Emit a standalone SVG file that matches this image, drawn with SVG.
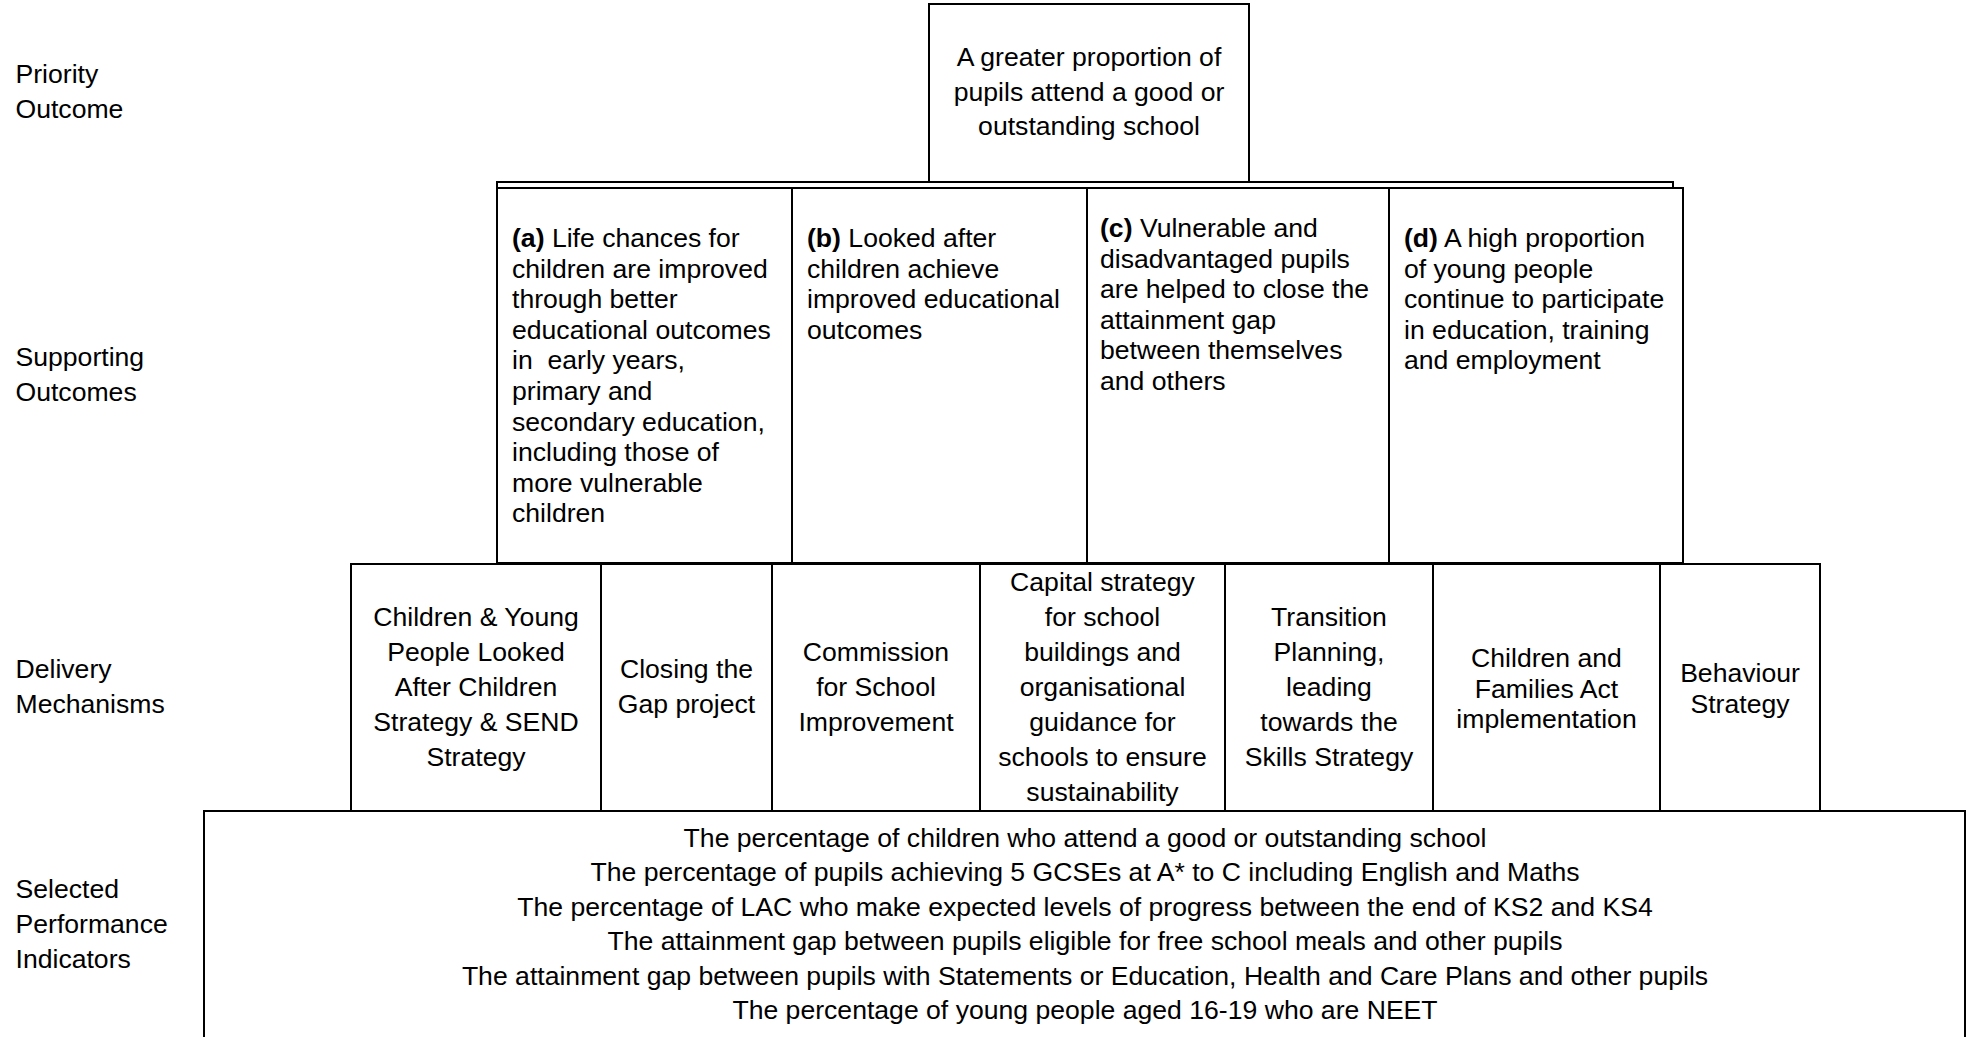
<svg xmlns="http://www.w3.org/2000/svg" width="1968" height="1037" viewBox="0 0 1968 1037">
<style>
  text { font-family: "Liberation Sans", Arial, sans-serif; font-size: 26.6px; fill: #000; }
  .c { text-anchor: middle; }
  .b { font-weight: bold; }
  .box { fill: none; stroke: #000; stroke-width: 2; }
  .ln { stroke: #000; stroke-width: 2; fill: none; }
</style>
<rect x="0" y="0" width="1968" height="1037" fill="#fff"/>

<g id="labels">
  <text x="15.5" y="83">Priority</text>
  <text x="15.5" y="118">Outcome</text>
  <text x="15.5" y="366">Supporting</text>
  <text x="15.5" y="401">Outcomes</text>
  <text x="15.5" y="678">Delivery</text>
  <text x="15.5" y="713">Mechanisms</text>
  <text x="15.5" y="898">Selected</text>
  <text x="15.5" y="933">Performance</text>
  <text x="15.5" y="968">Indicators</text>
</g>

<g id="priority">
  <rect class="box" x="929" y="4" width="320" height="178"/>
  <text class="c" x="1089" y="66">A greater proportion of</text>
  <text class="c" x="1089" y="101">pupils attend a good or</text>
  <text class="c" x="1089" y="135">outstanding school</text>
</g>

<g id="connectors">
  <polyline class="ln" points="497,563 497,182 1673,182 1673,188"/>
</g>

<g id="support-a">
  <rect class="box" x="497" y="188" width="295" height="375"/>
  <text x="512" y="247"><tspan class="b">(a)</tspan> Life chances for</text>
  <text x="512" y="277.6">children are improved</text>
  <text x="512" y="308.2">through better</text>
  <text x="512" y="338.8">educational outcomes</text>
  <text x="512" y="369.4" xml:space="preserve">in  early years,</text>
  <text x="512" y="400">primary and</text>
  <text x="512" y="430.6">secondary education,</text>
  <text x="512" y="461.2">including those of</text>
  <text x="512" y="491.8">more vulnerable</text>
  <text x="512" y="522.4">children</text>
</g>
<g id="support-b">
  <rect class="box" x="792" y="188" width="295" height="375"/>
  <text x="807" y="247"><tspan class="b">(b)</tspan> Looked after</text>
  <text x="807" y="277.6">children achieve</text>
  <text x="807" y="308.2">improved educational</text>
  <text x="807" y="338.8">outcomes</text>
</g>
<g id="support-c">
  <rect class="box" x="1087" y="188" width="302" height="375"/>
  <text x="1100" y="237"><tspan class="b">(c)</tspan> Vulnerable and</text>
  <text x="1100" y="267.6">disadvantaged pupils</text>
  <text x="1100" y="298.2">are helped to close the</text>
  <text x="1100" y="328.8">attainment gap</text>
  <text x="1100" y="359.4">between themselves</text>
  <text x="1100" y="390">and others</text>
</g>
<g id="support-d">
  <rect class="box" x="1389" y="188" width="294" height="375"/>
  <text x="1404" y="247"><tspan class="b">(d)</tspan> A high proportion</text>
  <text x="1404" y="277.6">of young people</text>
  <text x="1404" y="308.2">continue to participate</text>
  <text x="1404" y="338.8">in education, training</text>
  <text x="1404" y="369.4">and employment</text>
</g>

<g id="delivery-1">
  <rect class="box" x="351" y="564" width="250" height="247"/>
  <text class="c" x="476" y="625.5">Children &amp; Young</text>
  <text class="c" x="476" y="660.5">People Looked</text>
  <text class="c" x="476" y="695.5">After Children</text>
  <text class="c" x="476" y="730.5">Strategy &amp; SEND</text>
  <text class="c" x="476" y="765.5">Strategy</text>
</g>
<g id="delivery-2">
  <rect class="box" x="601" y="564" width="171" height="247"/>
  <text class="c" x="686.5" y="678">Closing the</text>
  <text class="c" x="686.5" y="713">Gap project</text>
</g>
<g id="delivery-3">
  <rect class="box" x="772" y="564" width="208" height="247"/>
  <text class="c" x="876" y="660.5">Commission</text>
  <text class="c" x="876" y="695.5">for School</text>
  <text class="c" x="876" y="730.5">Improvement</text>
</g>
<g id="delivery-4">
  <rect class="box" x="980" y="564" width="245" height="247"/>
  <text class="c" x="1102.5" y="590.5">Capital strategy</text>
  <text class="c" x="1102.5" y="625.5">for school</text>
  <text class="c" x="1102.5" y="660.5">buildings and</text>
  <text class="c" x="1102.5" y="695.5">organisational</text>
  <text class="c" x="1102.5" y="730.5">guidance for</text>
  <text class="c" x="1102.5" y="765.5">schools to ensure</text>
  <text class="c" x="1102.5" y="800.5">sustainability</text>
</g>
<g id="delivery-5">
  <rect class="box" x="1225" y="564" width="208" height="247"/>
  <text class="c" x="1329" y="625.5">Transition</text>
  <text class="c" x="1329" y="660.5">Planning,</text>
  <text class="c" x="1329" y="695.5">leading</text>
  <text class="c" x="1329" y="730.5">towards the</text>
  <text class="c" x="1329" y="765.5">Skills Strategy</text>
</g>
<g id="delivery-6">
  <rect class="box" x="1433" y="564" width="227" height="247"/>
  <text class="c" x="1546.5" y="667">Children and</text>
  <text class="c" x="1546.5" y="697.6">Families Act</text>
  <text class="c" x="1546.5" y="728.2">implementation</text>
</g>
<g id="delivery-7">
  <rect class="box" x="1660" y="564" width="160" height="247"/>
  <text class="c" x="1740" y="682">Behaviour</text>
  <text class="c" x="1740" y="712.6">Strategy</text>
</g>

<g id="indicators">
  <rect class="box" x="204" y="811" width="1761" height="240"/>
  <text class="c" x="1085" y="846.5">The percentage of children who attend a good or outstanding school</text>
  <text class="c" x="1085" y="881">The percentage of pupils achieving 5 GCSEs at A* to C including English and Maths</text>
  <text class="c" x="1085" y="915.5">The percentage of LAC who make expected levels of progress between the end of KS2 and KS4</text>
  <text class="c" x="1085" y="950">The attainment gap between pupils eligible for free school meals and other pupils</text>
  <text class="c" x="1085" y="984.5">The attainment gap between pupils with Statements or Education, Health and Care Plans and other pupils</text>
  <text class="c" x="1085" y="1019">The percentage of young people aged 16-19 who are NEET</text>
</g>
</svg>
